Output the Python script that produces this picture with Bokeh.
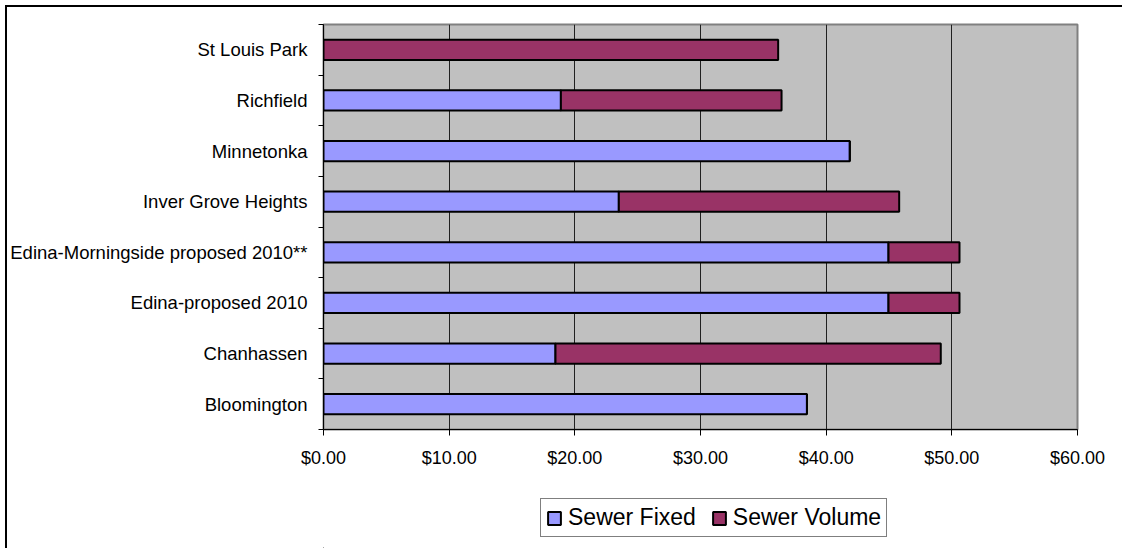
from bokeh.plotting import figure
from bokeh.layouts import column
from bokeh.models import (Range1d, FixedTicker, Legend, LegendItem, ColumnDataSource,
                          NumeralTickFormatter)
from bokeh.embed import file_html
from bokeh.resources import INLINE

# Data (bottom to top, as drawn)
cities = ["Bloomington", "Chanhassen", "Edina-proposed 2010",
          "Edina-Morningside proposed 2010**", "Inver Grove Heights",
          "Minnetonka", "Richfield", "St Louis Park"]
sewer_fixed = [38.47, 18.46, 44.96, 44.96, 23.50, 41.88, 18.89, 0.00]
sewer_volume = [0.00, 30.66, 5.65, 5.65, 22.31, 0.00, 17.56, 36.18]
x_ticks = [0, 10, 20, 30, 40, 50, 60]
series_names = ["Sewer Fixed", "Sewer Volume"]
series_colors = ["#9999FF", "#993366"]

FONT = "Liberation Sans"
pos = list(range(1, len(cities) + 1))
totals = [f + v for f, v in zip(sewer_fixed, sewer_volume)]
src = ColumnDataSource(dict(y=pos, fixed=sewer_fixed, vol=sewer_volume,
                            zero=[0] * len(pos), total=totals))

MAIN_H = 480
p = figure(width=1122, height=MAIN_H, output_backend="svg", toolbar_location=None,
           x_range=Range1d(0, 60), y_range=Range1d(0.5, len(cities) + 0.5),
           min_border_left=323, min_border_right=45, min_border_top=24,
           min_border_bottom=MAIN_H - 429)
p.border_fill_color = None
p.background_fill_color = "#C0C0C0"
p.outline_line_color = "#808080"
p.outline_line_width = 2

bh = 0.4
r1 = p.hbar(y="y", left="zero", right="fixed", height=bh, source=src,
            fill_color=series_colors[0], line_color="black", line_width=2)
r2 = p.hbar(y="y", left="fixed", right="total", height=bh, source=src,
            fill_color=series_colors[1], line_color="black", line_width=2)

# x axis
xa = p.xaxis[0]
xa.ticker = FixedTicker(ticks=x_ticks)
xa.formatter = NumeralTickFormatter(format="$0.00")
xa.major_label_text_font = FONT
xa.major_label_text_font_size = "18px"
xa.major_label_text_color = "black"
xa.major_tick_out = 6
xa.major_tick_in = 0
xa.minor_tick_line_color = None
xa.major_label_standoff = 12
xa.axis_line_color = "black"
xa.major_tick_line_color = "black"

# y axis: labels at centers, ticks at boundaries
ya = p.yaxis[0]
ya.ticker = FixedTicker(ticks=pos, minor_ticks=[i + 0.5 for i in range(0, len(cities) + 1)])
ya.major_label_overrides = {i: c for i, c in zip(pos, cities)}
ya.major_label_text_font = FONT
ya.major_label_text_font_size = "18.5px"
ya.major_label_text_color = "black"
ya.major_tick_line_color = None
ya.major_tick_out = 0
ya.major_tick_in = 0
ya.minor_tick_line_color = "black"
ya.minor_tick_out = 5
ya.minor_tick_in = 0
ya.major_label_standoff = 11
ya.axis_line_color = "black"

p.xgrid.ticker = FixedTicker(ticks=x_ticks[1:-1])
p.xgrid.grid_line_color = "#202020"
p.xgrid.grid_line_width = 1
p.ygrid.grid_line_color = None

# Legend strip below the chart (its frame is aligned with the main frame)
LEG_H = 548 - MAIN_H
lf = figure(width=1122, height=LEG_H, output_backend="svg", toolbar_location=None,
            x_axis_location=None, y_axis_location=None, min_border=0,
            x_range=Range1d(0, 1), y_range=Range1d(0, 1))
lf.border_fill_color = None
lf.background_fill_color = None
lf.outline_line_color = None
lf.xgrid.grid_line_color = None
lf.ygrid.grid_line_color = None
# swatch renderers kept far outside the visible range; only their legend glyphs show
off = ColumnDataSource(dict(y=[-500], l=[-500], r=[-499]))
lr1 = lf.hbar(y="y", left="l", right="r", height=0.4, source=off,
              fill_color=series_colors[0], line_color="black", line_width=2)
lr2 = lf.hbar(y="y", left="l", right="r", height=0.4, source=off,
              fill_color=series_colors[1], line_color="black", line_width=2)

legend = Legend(items=[LegendItem(label=series_names[0], renderers=[lr1]),
                       LegendItem(label=series_names[1], renderers=[lr2])],
                orientation="horizontal", location=(539 - 323 + 1, 548 - 537))
legend.label_text_font = FONT
legend.label_text_font_size = "23px"
legend.label_text_color = "black"
legend.glyph_width = 16
legend.glyph_height = 16
legend.label_standoff = 6
legend.spacing = 15
legend.padding = 5
legend.margin = 0
legend.border_line_color = "black"
legend.border_line_width = 1
legend.background_fill_color = "white"
legend.background_fill_alpha = 1
lf.add_layout(legend, "center")

layout = column(p, lf, spacing=0)
layout.styles = {
    "background": "linear-gradient(#000,#000) 5px 5px / 2px 100% no-repeat, "
                  "linear-gradient(#000,#000) 5px 5px / 100% 2px no-repeat, #ffffff"
}

open("out.html", "w").write(file_html(layout, INLINE))
